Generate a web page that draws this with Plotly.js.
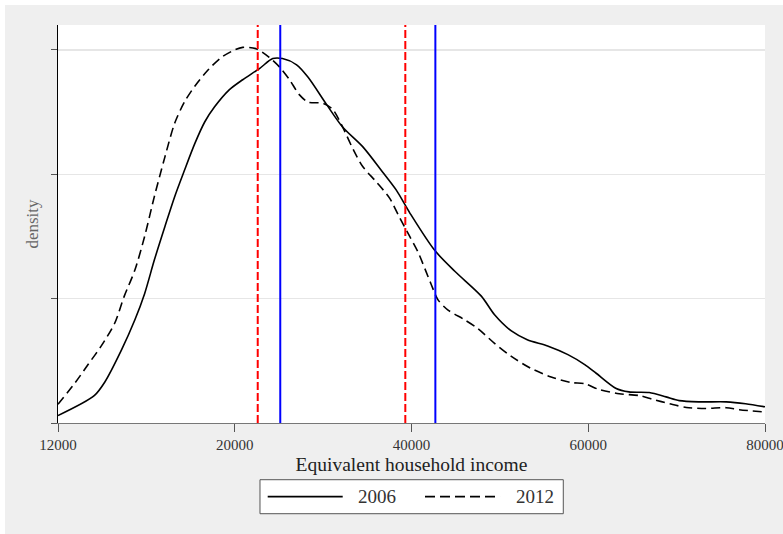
<!DOCTYPE html>
<html>
<head>
<meta charset="utf-8">
<script src="https://cdn.plot.ly/plotly-3.0.1.min.js"></script>
<style>
html,body{margin:0;padding:0;background:#ffffff;width:783px;height:534px;overflow:hidden;}
#chart{position:absolute;left:5px;top:5px;width:778px;height:529px;}
</style>
</head>
<body>
<div id="chart"></div>
<script>
// Kernel density of equivalent household income (density in arbitrary units, gridline = 1)
const x2006 = [0,4100,5300,7200,8700,9800,10900,12100,13200,14300,15500,16600,17700,19400,20900,22800,24300,25400,27000,28300,30400,32200,34500,36700,38300,39800,42600,44900,47900,49400,51300,53100,55400,57700,59600,60900,63100,64600,66900,68800,70300,72600,75600,77800,80000];
const y2006 = [0.06,0.22,0.33,0.59,0.83,1.04,1.31,1.58,1.82,2.03,2.25,2.42,2.54,2.68,2.76,2.85,2.93,2.93,2.88,2.78,2.56,2.38,2.22,2.02,1.87,1.69,1.39,1.22,1.02,0.87,0.74,0.67,0.62,0.55,0.47,0.40,0.28,0.25,0.245,0.21,0.18,0.17,0.17,0.155,0.13];
const x2012 = [0,1900,3400,4900,6400,7500,8700,9800,10900,12100,13200,14300,15500,17000,18500,20000,20900,22400,23900,25100,26200,27300,28300,30000,31100,32200,33400,34500,36000,37500,38600,39800,40700,42200,43000,44100,46000,47500,49400,51300,53500,55800,58000,59600,61200,63500,65800,67300,69200,71100,73300,75600,77100,80000];
const y2012 = [0.15,0.32,0.47,0.62,0.80,1.02,1.23,1.50,1.82,2.14,2.41,2.58,2.71,2.84,2.94,3.00,3.02,3.01,2.94,2.86,2.76,2.64,2.58,2.57,2.52,2.38,2.20,2.06,1.94,1.81,1.66,1.50,1.38,1.12,0.99,0.91,0.83,0.76,0.64,0.535,0.44,0.37,0.326,0.316,0.27,0.235,0.22,0.19,0.155,0.125,0.117,0.123,0.107,0.088];
// reference lines (red dashed = 2012, blue solid = 2006)
const lines2012 = [22600, 39300];
const lines2006 = [25150, 42700];
// tick labels
const xTickVals = [0, 20000, 40000, 60000, 80000];
const xTickText = ["12000", "20000", "40000", "60000", "80000"];
const yTickVals = [0, 1, 2, 3];
const seriesNames = ["2006", "2012"];

const FONT = "Liberation Serif, Times New Roman, serif";

const traces = [
  {x: x2006, y: y2006, type: 'scatter', mode: 'lines', name: seriesNames[0],
   line: {color: '#000000', width: 1.6, shape: 'spline', smoothing: 0.8}},
  {x: x2012, y: y2012, type: 'scatter', mode: 'lines', name: seriesNames[1],
   line: {color: '#000000', width: 1.6, dash: '9px,5px', shape: 'spline', smoothing: 0.8}}
];

const shapes = [];
lines2012.forEach(v => shapes.push({type: 'line', xref: 'x', yref: 'paper', x0: v, x1: v, y0: 0, y1: 1,
  line: {color: '#ff0000', width: 2, dash: '8px,3px'}}));
lines2006.forEach(v => shapes.push({type: 'line', xref: 'x', yref: 'paper', x0: v, x1: v, y0: 0, y1: 1,
  line: {color: '#0000ff', width: 2}}));
// legend box
shapes.push({type: 'rect', xref: 'paper', yref: 'paper', x0: 0.2857, x1: 0.7147, y0: -0.2279, y1: -0.1425,
  fillcolor: '#ffffff', line: {color: '#555555', width: 1}});
shapes.push({type: 'line', xref: 'paper', yref: 'paper', x0: 0.2966, x1: 0.4027, y0: -0.1852, y1: -0.1852,
  line: {color: '#000000', width: 1.8}});
shapes.push({type: 'line', xref: 'paper', yref: 'paper', x0: 0.5191, x1: 0.6252, y0: -0.1852, y1: -0.1852,
  line: {color: '#000000', width: 1.8, dash: '10px,5px'}});

const annotations = [
  {xref: 'paper', yref: 'paper', x: 0.4512, y: -0.1852, text: seriesNames[0], showarrow: false,
   xanchor: 'center', yanchor: 'middle', font: {family: FONT, size: 19, color: '#333333'}},
  {xref: 'paper', yref: 'paper', x: 0.6747, y: -0.1852, text: seriesNames[1], showarrow: false,
   xanchor: 'center', yanchor: 'middle', font: {family: FONT, size: 19, color: '#333333'}}
];

const layout = {
  width: 778, height: 529,
  margin: {l: 53, r: 18, t: 20, b: 111, pad: 0},
  paper_bgcolor: '#efefef',
  plot_bgcolor: '#ffffff',
  showlegend: false,
  font: {family: FONT, color: '#333333'},
  xaxis: {
    range: [0, 80000], tickvals: xTickVals, ticktext: xTickText,
    ticks: 'outside', ticklen: 8, tickwidth: 1, tickcolor: '#555555',
    showline: true, linecolor: '#777777', linewidth: 1.2,
    showgrid: false, zeroline: false, ticklabeloverflow: 'allow',
    tickfont: {family: FONT, size: 15, color: '#333333'},
    title: {text: 'Equivalent household income', font: {family: FONT, size: 19.5, color: '#222222'}, standoff: 5}
  },
  yaxis: {
    range: [0, 3.2], tickvals: yTickVals, showticklabels: false,
    ticks: 'outside', ticklen: 6, tickwidth: 1, tickcolor: '#555555',
    showline: true, linecolor: '#000000', linewidth: 1,
    showgrid: true, gridcolor: '#e6e6e6', gridwidth: 1.5, zeroline: false,
    title: {text: 'density', font: {family: FONT, size: 17, color: '#666666'}, standoff: 8}
  },
  shapes: shapes,
  annotations: annotations
};

Plotly.newPlot('chart', traces, layout, {staticPlot: true, displayModeBar: false});
</script>
</body>
</html>
